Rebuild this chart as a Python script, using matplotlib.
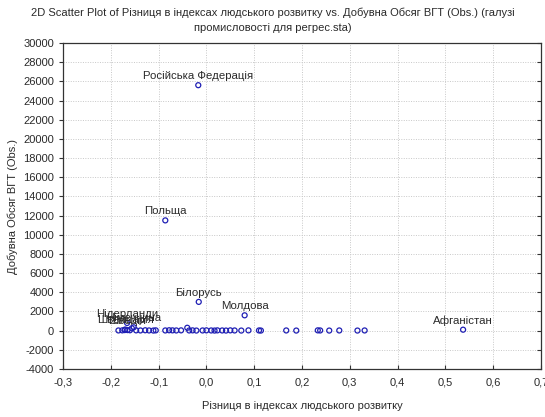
import matplotlib
matplotlib.use("Agg")
import matplotlib.pyplot as plt
from matplotlib.ticker import MultipleLocator, FuncFormatter

plt.rcParams['font.family'] = ['Liberation Sans', 'DejaVu Sans']

# Labelled countries: HDI difference vs. mining gross value added
labelled_names = ["Російська Федерація", "Польща", "Білорусь", "Молдова", "Афганістан",
                  "Нідерланди", "Німеччина", "Швейцарія", "Швеція"]
labelled_x = [-0.017, -0.086, -0.016, 0.080, 0.537, -0.166, -0.152, -0.170, -0.165]
labelled_y = [25600, 11500, 3000, 1600, 100, 800, 350, 120, 60]

# Remaining countries (values near zero)
other_x = [-0.184, -0.176, -0.171, -0.160, -0.156, -0.147, -0.138, -0.128, -0.120,
           -0.111, -0.106, -0.086, -0.078, -0.071, -0.063, -0.053, -0.040, -0.036,
           -0.029, -0.021, -0.008, 0.000, 0.010, 0.017, 0.023, 0.033, 0.041,
           0.050, 0.059, 0.073, 0.088, 0.110, 0.114, 0.167, 0.188, 0.233,
           0.238, 0.257, 0.278, 0.316, 0.331]
other_y = [20, 30, 60, 40, 250, 30, 20, 40, 20,
           10, 30, 20, 40, 30, 20, 30, 300, 20,
           30, 10, 20, 30, 20, 10, 30, 20, 10,
           30, 20, 10, 30, 20, 10, 20, 10, 30,
           20, 10, 20, 10, 20]

x_ticks = [-0.3, -0.2, -0.1, 0.0, 0.1, 0.2, 0.3, 0.4, 0.5, 0.6, 0.7]

text_color = "#2a2a2a"
marker_color = "#1f1fb4"

fig = plt.figure(figsize=(5.45, 4.17), dpi=100)
ax = fig.add_axes([63 / 545, 1 - 369 / 417, (541 - 63) / 545, (369 - 43) / 417])

xs = other_x + labelled_x
ys = other_y + labelled_y
ax.scatter(xs, ys, s=13, facecolors="none", edgecolors=marker_color, linewidths=0.9, zorder=3)

for name, x, y in zip(labelled_names, labelled_x, labelled_y):
    ax.annotate(name, (x, y), xytext=(0, 3), textcoords="offset points",
                ha="center", va="bottom", fontsize=8.2, color=text_color, zorder=4)

ax.set_xlim(-0.3, 0.7)
ax.set_ylim(-4000, 30000)
ax.set_xticks(x_ticks)
ax.yaxis.set_major_locator(MultipleLocator(2000))
ax.xaxis.set_major_formatter(FuncFormatter(lambda v, p: f"{v:.1f}".replace(".", ",").replace("-0,0", "0,0")))
ax.yaxis.set_major_formatter(FuncFormatter(lambda v, p: f"{int(round(v))}"))

ax.grid(True, color="#c8c8c8", linestyle=(0, (1, 1.5)), linewidth=0.7)
ax.set_axisbelow(True)

ax.tick_params(axis="y", which="both", direction="out", length=3, width=0.8,
               labelsize=8, labelcolor=text_color, color="#333333", right=True)
ax.tick_params(axis="x", direction="in", length=3, width=0.8, labelsize=8,
               labelcolor=text_color, color="#333333", pad=6)
for side in ["top", "bottom", "left", "right"]:
    ax.spines[side].set_color("#333333")
    ax.spines[side].set_linewidth(0.9)

# inward ticks on the right spine
for t in ax.yaxis.get_major_ticks():
    t.tick2line.set_marker(matplotlib.lines.TICKLEFT)
    t.tick2line.set_markersize(3)

ax.set_xlabel("Різниця в індексах людського розвитку", fontsize=8, color=text_color, labelpad=10)
ax.set_ylabel("Добувна Обсяг ВГТ (Obs.)", fontsize=8, color=text_color, labelpad=4)

fig.text(0.5, 1 - 8 / 417,
         "2D Scatter Plot of Різниця в індексах людського розвитку vs. Добувна Обсяг ВГТ (Obs.) (галузі\n"
         "промисловості для регрес.sta)",
         fontsize=8, color=text_color, ha="center", va="top", linespacing=1.6)

fig.savefig("out.png", dpi=100, facecolor="white")
